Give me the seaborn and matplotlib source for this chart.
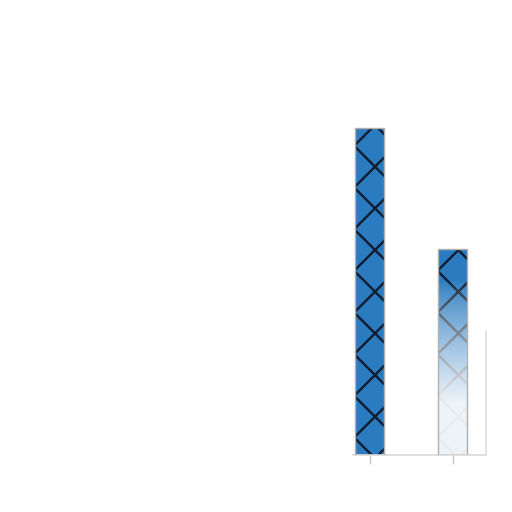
import numpy as np
import pandas as pd
import matplotlib
matplotlib.use("Agg")
import matplotlib.pyplot as plt
import seaborn as sns

# data
categories = ["A", "B"]
values = [46, 29]
bar_color = "#2b7bc0"

sns.set_style("white")
plt.rcParams["hatch.linewidth"] = 0.7

df = pd.DataFrame({"category": categories, "value": values})

fig = plt.figure(figsize=(2.048, 2.048), dpi=250)
ax = fig.add_axes([353 / 512, 57 / 512, 133 / 512, 355 / 512])

sns.barplot(data=df, x="category", y="value", color=bar_color, width=0.35,
            saturation=1, edgecolor="#0f1e33", linewidth=0, hatch="xx", ax=ax)

ax.set_xlabel("")
ax.set_ylabel("")
ax.set_yticks([])
ax.set_xticklabels([])
ax.tick_params(axis="x", bottom=True, length=2.5, width=0.4, color="#c8c8c8", pad=0)

for side in ["top", "left"]:
    ax.spines[side].set_visible(False)
ax.spines["bottom"].set_color("#dcdcdc")
ax.spines["bottom"].set_linewidth(0.5)
ax.spines["right"].set_color("#e0e0e0")
ax.spines["right"].set_linewidth(0.5)
ax.spines["right"].set_bounds(0, 17.5)

# thin light outline on the bars
for p in ax.patches:
    ax.add_patch(plt.Rectangle((p.get_x(), 0), p.get_width(), p.get_height(),
                               fill=False, edgecolor="#b0b0b0", linewidth=0.4,
                               zorder=p.get_zorder() + 2))

# fade the second bar towards the bottom
patch = ax.patches[1]
x0 = patch.get_x()
w = patch.get_width()
h = patch.get_height()
ramp = np.clip((np.linspace(0, 1, 200) - 0.15) / 0.6, 0, 1) ** 0.8 * 0.92
grad = np.ones((200, 1, 4))
grad[:, 0, 3] = ramp
img = ax.imshow(grad, extent=[x0, x0 + w, 0, h], aspect="auto",
                origin="upper", zorder=patch.get_zorder() + 1)
img.set_clip_path(patch)

ax.set_xlim(-0.2, 1.4)
ax.set_ylim(0, 50)

fig.savefig("out.png", dpi=250)
